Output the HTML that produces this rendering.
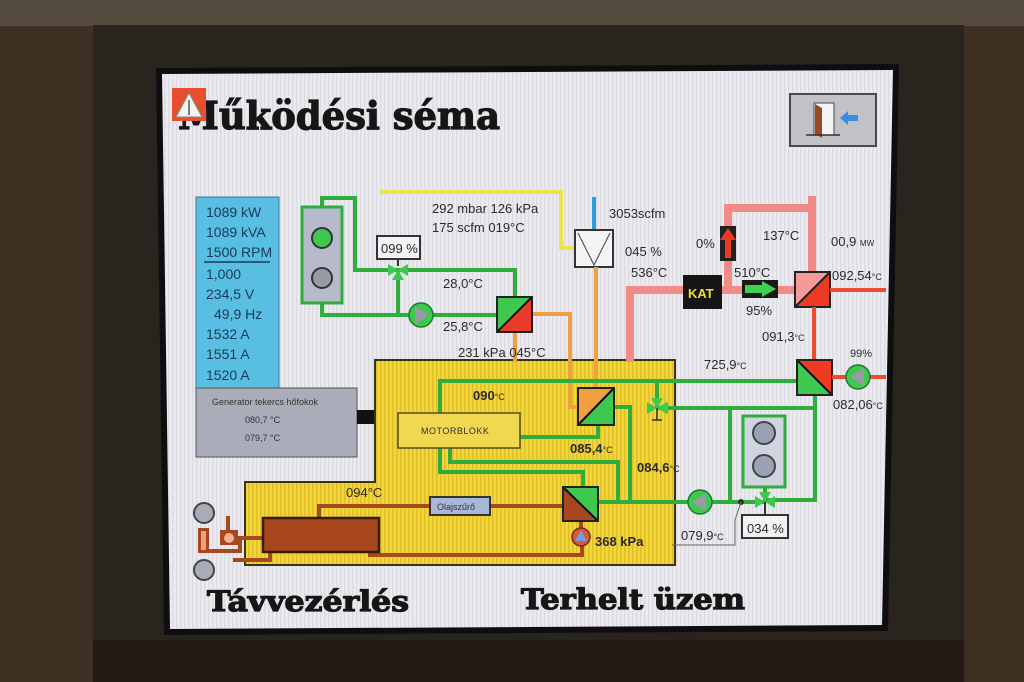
<!DOCTYPE html>
<html><head><meta charset="utf-8"><style>
html,body{margin:0;padding:0;background:#3a2f24;}
svg{display:block;}
text{font-family:"Liberation Sans",sans-serif;fill:#2a2a2a;}
.serif{font-family:"DejaVu Serif","Liberation Serif",serif;font-weight:bold;fill:#161616;stroke:#161616;stroke-width:1.2;}
</style></head><body>
<svg width="1024" height="682" viewBox="0 0 1024 682" xmlns="http://www.w3.org/2000/svg">
<defs>
<pattern id="stripes" width="4" height="4" patternUnits="userSpaceOnUse"><rect width="4" height="4" fill="#f2d63e"/><rect width="1.5" height="4" fill="#e0be26"/></pattern>
<pattern id="scr" width="4" height="4" patternUnits="userSpaceOnUse"><rect width="4" height="4" fill="#ebebef"/><rect width="1.5" height="4" fill="#dcdce2"/></pattern>
</defs>
<!-- wall & bezel -->
<rect x="0" y="0" width="1024" height="682" fill="#3d3022"/>
<rect x="0" y="0" width="1024" height="26" fill="#544a3e"/>
<rect x="93" y="25" width="871" height="657" fill="#2a241f"/>
<rect x="93" y="640" width="871" height="42" fill="#221b15"/>
<!-- screen frame -->
<polygon points="156,68 899,64 888,631 164,635" fill="#0e0e10"/>
<polygon points="162,74 893,70 882,625 170,629" fill="url(#scr)"/>

<!-- title -->
<text class="serif" x="178" y="129" font-size="38" textLength="322" lengthAdjust="spacingAndGlyphs">Működési séma</text>
<rect x="172" y="88" width="34" height="33" fill="#e6502e"/>
<polygon points="189,93 176,117 202,117" fill="#f4f4f4" stroke="#888" stroke-width="1"/>
<line x1="189" y1="100" x2="189" y2="115" stroke="#555" stroke-width="1.5"/>

<!-- exit button -->
<rect x="790" y="94" width="86" height="52" fill="#c2c2c6" stroke="#4a4a4a" stroke-width="2"/>
<rect x="814" y="103" width="20" height="32" fill="#f4f4f4" stroke="#444" stroke-width="1"/>
<polygon points="815,104 822,108 822,138 815,134" fill="#9a4a20"/>
<line x1="806" y1="135" x2="840" y2="135" stroke="#333" stroke-width="1.5"/>
<polygon points="840,118 848,111 848,115 858,115 858,121 848,121 848,125" fill="#3a8ee0"/>

<!-- blue panel -->
<rect x="196" y="197" width="83" height="191" fill="#58bfe2" stroke="#3a7a9a" stroke-width="1"/>
<g font-size="14">
<text x="206" y="217" style="fill:#183a5a">1089 kW</text>
<text x="206" y="237" style="fill:#183a5a">1089 kVA</text>
<text x="206" y="257" style="fill:#183a5a">1500 RPM</text>
<text x="206" y="279" style="fill:#183a5a">1,000</text>
<text x="206" y="299" style="fill:#183a5a">234,5 V</text>
<text x="214" y="319" style="fill:#183a5a">49,9 Hz</text>
<text x="206" y="339" style="fill:#183a5a">1532  A</text>
<text x="206" y="359" style="fill:#183a5a">1551  A</text>
<text x="206" y="380" style="fill:#183a5a">1520  A</text>
</g>
<line x1="204" y1="262" x2="270" y2="262" stroke="#183a5a" stroke-width="1.5"/>
<!-- gray panel -->
<rect x="196" y="388" width="161" height="69" fill="#a8adb9" stroke="#555" stroke-width="1"/>
<text x="212" y="405" font-size="9" style="fill:#333">Generator tekercs hőfokok</text>
<text x="245" y="423" font-size="9" style="fill:#333">080,7      °C</text>
<text x="245" y="441" font-size="9" style="fill:#333">079,7      °C</text>
<rect x="357" y="410" width="19" height="14" fill="#111"/>

<!-- yellow engine block -->
<path d="M375,360 H675 V565 H245 V482 H375 Z" fill="url(#stripes)" stroke="#3a3414" stroke-width="2"/>

<!-- top-left green circuit -->
<g fill="none" stroke="#2fae3e" stroke-width="4">
<polyline points="322,207 322,198 355,198 355,270 515,270 515,297"/>
<polyline points="322,303 322,315 497,315"/>
<line x1="398" y1="270" x2="398" y2="315"/>
</g>
<rect x="302" y="207" width="40" height="96" fill="#b6bacb" stroke="#2fae3e" stroke-width="3"/>
<circle cx="322" cy="238" r="10" fill="#3ec850" stroke="#333" stroke-width="2"/>
<circle cx="322" cy="278" r="10" fill="#9a9aa6" stroke="#333" stroke-width="2"/>
<!-- valve 099 -->
<rect x="377" y="236" width="43" height="23" fill="#f2f2f2" stroke="#333" stroke-width="2"/>
<text x="381" y="253" font-size="13">099 %</text>
<line x1="398" y1="259" x2="398" y2="266" stroke="#333" stroke-width="2"/>
<polygon points="388,264 388,276 398,270" fill="#3ec850"/>
<polygon points="408,264 408,276 398,270" fill="#3ec850"/>
<polygon points="392,280 404,280 398,270" fill="#3ec850"/>
<!-- pump -->
<circle cx="421" cy="315" r="12" fill="#3ec850" stroke="#1e7a2a" stroke-width="1.5"/>
<polygon points="415,306 415,324 429,315" fill="#9a9aa6"/>

<!-- yellow / blue / turbo -->
<polyline points="380,192 561,192 561,248 575,248" fill="none" stroke="#f0e34a" stroke-width="4"/>
<line x1="594" y1="197" x2="594" y2="230" stroke="#2e9ed8" stroke-width="4"/>
<rect x="575" y="230" width="38" height="37" fill="#f4f4f4" stroke="#333" stroke-width="2"/>
<polyline points="578,233 594,265 610,233" fill="none" stroke="#444" stroke-width="1"/>

<!-- orange pipes -->
<g fill="none" stroke="#f0a040" stroke-width="4">
<polyline points="532,314 570,314 570,407 578,407"/>
<line x1="596" y1="267" x2="596" y2="388"/>
<line x1="515" y1="332" x2="515" y2="362"/>
</g>

<!-- HX1 -->
<polygon points="497,297 532,297 497,332" fill="#3ec850"/>
<polygon points="532,297 532,332 497,332" fill="#ea3a2a"/>
<line x1="497" y1="332" x2="532" y2="297" stroke="#111" stroke-width="2"/>
<rect x="497" y="297" width="35" height="35" fill="none" stroke="#222" stroke-width="2"/>

<!-- pink exhaust -->
<g fill="none" stroke="#f28a88" stroke-width="8">
<polyline points="630,362 630,290 683,290"/>
<line x1="722" y1="290" x2="795" y2="290"/>
<polyline points="728,290 728,208 812,208"/>
<line x1="812" y1="196" x2="812" y2="272"/>
</g>
<rect x="683" y="275" width="39" height="34" fill="#151515"/>
<text x="688" y="298" font-size="13" font-weight="bold" style="fill:#f0e030">KAT</text>
<rect x="720" y="226" width="16" height="35" fill="#222"/>
<polygon points="728,228 720,240 725,240 725,258 731,258 731,240 736,240" fill="#ee3a22"/>
<rect x="742" y="280" width="36" height="18" fill="#1a1a1a"/>
<polygon points="745,285 762,285 762,281 776,289 762,297 762,293 745,293" fill="#40d050"/>
<!-- HX3 -->
<polygon points="795,272 830,272 795,307" fill="#f49a98"/>
<polygon points="830,272 830,307 795,307" fill="#ee3a22"/>
<line x1="795" y1="307" x2="830" y2="272" stroke="#222" stroke-width="2"/>
<rect x="795" y="272" width="35" height="35" fill="none" stroke="#222" stroke-width="2"/>
<line x1="830" y1="290" x2="886" y2="290" stroke="#ee4a32" stroke-width="4"/>
<line x1="814" y1="307" x2="814" y2="360" stroke="#ee4a32" stroke-width="4"/>

<!-- green pipes engine -->
<g fill="none" stroke="#2fae3e" stroke-width="4">
<polyline points="440,413 440,381 797,381"/>
<polyline points="520,437 598,437 598,425"/>
<polyline points="614,407 630,407 630,502"/>
<polyline points="440,447 440,472 583,472 583,487"/>
<polyline points="450,447 450,462 618,462 618,502"/>
<line x1="598" y1="502" x2="765" y2="502"/>
<line x1="657" y1="381" x2="657" y2="408"/>
<line x1="657" y1="408" x2="815" y2="408"/>
<line x1="730" y1="408" x2="730" y2="502"/>
<polyline points="815,395 815,500 765,500"/>
<line x1="765" y1="487" x2="765" y2="502"/>
</g>
<!-- HX2 -->
<polygon points="578,388 614,388 578,425" fill="#f0a040"/>
<polygon points="614,388 614,425 578,425" fill="#3ec850"/>
<line x1="578" y1="425" x2="614" y2="388" stroke="#111" stroke-width="2"/>
<rect x="578" y="388" width="36" height="37" fill="none" stroke="#222" stroke-width="2"/>
<!-- valve in block -->
<polygon points="647,402 647,414 657,408" fill="#3ec850"/>
<polygon points="667,402 667,414 657,408" fill="#3ec850"/>
<polygon points="651,398 663,398 657,408" fill="#3ec850"/>
<line x1="657" y1="408" x2="657" y2="420" stroke="#333" stroke-width="1.5"/>
<line x1="652" y1="420" x2="662" y2="420" stroke="#333" stroke-width="1.5"/>

<!-- motorblokk -->
<rect x="398" y="413" width="122" height="35" fill="#f0d850" stroke="#5a4a20" stroke-width="1.5"/>
<text x="421" y="434" font-size="9" letter-spacing="0.5" style="fill:#333">MOTORBLOKK</text>

<!-- HX4 -->
<polygon points="797,360 832,360 832,395" fill="#ee3a22"/>
<polygon points="797,360 797,395 832,395" fill="#3ec850"/>
<line x1="797" y1="360" x2="832" y2="395" stroke="#111" stroke-width="2"/>
<rect x="797" y="360" width="35" height="35" fill="none" stroke="#222" stroke-width="2"/>
<line x1="832" y1="377" x2="886" y2="377" stroke="#ee4a32" stroke-width="4"/>
<circle cx="858" cy="377" r="12" fill="#3ec850" stroke="#1e7a2a" stroke-width="1.5"/>
<polygon points="850,377 864,368 864,386" fill="#9a9aa6"/>

<!-- tank right -->
<rect x="743" y="416" width="42" height="71" fill="#d0d4de" stroke="#2fae3e" stroke-width="3"/>
<circle cx="764" cy="433" r="11" fill="#9aa2b6" stroke="#444" stroke-width="2"/>
<circle cx="764" cy="466" r="11" fill="#9aa2b6" stroke="#444" stroke-width="2"/>
<polygon points="755,496 755,508 765,502" fill="#3ec850"/>
<polygon points="775,496 775,508 765,502" fill="#3ec850"/>
<polygon points="759,492 771,492 765,502" fill="#3ec850"/>
<line x1="765" y1="502" x2="765" y2="515" stroke="#333" stroke-width="2"/>
<rect x="742" y="515" width="46" height="23" fill="#f2f2f2" stroke="#333" stroke-width="2"/>
<text x="747" y="533" font-size="13">034 %</text>
<circle cx="741" cy="502" r="3" fill="#333"/>
<polyline points="741,502 735,520 735,545 672,545" fill="none" stroke="#666" stroke-width="1"/>
<!-- pump left -->
<circle cx="700" cy="502" r="12" fill="#3ec850" stroke="#1e7a2a" stroke-width="1.5"/>
<polygon points="692,502 706,493 706,511" fill="#9a9aa6"/>
<polygon points="668,402 660,408 668,414" fill="#3ec850"/>

<!-- oil circuit -->
<g fill="none" stroke="#a44a1c" stroke-width="4">
<polyline points="319,518 319,506 430,506"/>
<line x1="490" y1="506" x2="563" y2="506"/>
<polyline points="370,552 370,555 582,555 582,546"/>
<line x1="581" y1="521" x2="581" y2="528"/>
<polyline points="263,538 238,538"/>
<polyline points="208,551 240,551 240,540"/>
<polyline points="233,560 270,560 270,552"/>
<line x1="228" y1="516" x2="228" y2="530"/>
</g>
<rect x="263" y="518" width="116" height="34" fill="#a8461e" stroke="#3a1a0a" stroke-width="2.5"/>
<rect x="430" y="497" width="60" height="18" fill="#a8b8d8" stroke="#333" stroke-width="2"/>
<text x="437" y="510" font-size="9" style="fill:#333">Olajszűrő</text>
<!-- HX5 -->
<polygon points="563,487 598,487 598,521" fill="#3ec850"/>
<polygon points="563,487 563,521 598,521" fill="#a8461e"/>
<line x1="563" y1="487" x2="598" y2="521" stroke="#111" stroke-width="2"/>
<rect x="563" y="487" width="35" height="34" fill="none" stroke="#222" stroke-width="2"/>
<circle cx="581" cy="537" r="9" fill="#d05a3a" stroke="#7a2a10" stroke-width="1.5"/>
<polygon points="581,530 575,541 587,541" fill="#7a9ae0"/>
<!-- left small items -->
<rect x="220" y="530" width="18" height="15" fill="#a8461e"/>
<circle cx="229" cy="538" r="5" fill="#f4b090"/>
<rect x="198" y="528" width="11" height="25" fill="#a8461e"/>
<rect x="201" y="531" width="5" height="19" fill="#f0a080"/>
<circle cx="204" cy="513" r="10" fill="#a8acb8" stroke="#444" stroke-width="2"/>
<circle cx="204" cy="570" r="10" fill="#a8acb8" stroke="#444" stroke-width="2"/>

<!-- labels -->
<g font-size="13">
<text x="432" y="213">292 mbar 126 kPa</text>
<text x="432" y="232">175 scfm  019°C</text>
<text x="609" y="218">3053scfm</text>
<text x="625" y="256">045 %</text>
<text x="631" y="277">536°C</text>
<text x="443" y="288">28,0°C</text>
<text x="443" y="331">25,8°C</text>
<text x="458" y="357">231 kPa  045°C</text>
<text x="696" y="248">0%</text>
<text x="763" y="240">137°C</text>
<text x="831" y="246">00,9 <tspan font-size="8">MW</tspan></text>
<text x="734" y="277">510°C</text>
<text x="746" y="315">95%</text>
<text x="832" y="280">092,54<tspan font-size="9">°C</tspan></text>
<text x="762" y="341">091,3<tspan font-size="9">°C</tspan></text>
<text x="704" y="369">725,9<tspan font-size="9">°C</tspan></text>
<text x="850" y="357" font-size="11">99%</text>
<text x="833" y="409">082,06<tspan font-size="9">°C</tspan></text>
<text x="473" y="400" font-weight="bold">090<tspan font-size="9" font-weight="normal">°C</tspan></text>
<text x="570" y="453" font-weight="bold">085,4<tspan font-size="9" font-weight="normal">°C</tspan></text>
<text x="637" y="472" font-weight="bold">084,6<tspan font-size="9" font-weight="normal">°C</tspan></text>
<text x="346" y="497">094°C</text>
<text x="595" y="546" font-weight="bold">368 kPa</text>
<text x="681" y="540">079,9<tspan font-size="9">°C</tspan></text>
</g>

<!-- bottom titles -->
<text class="serif" x="207" y="611" font-size="28" textLength="202" lengthAdjust="spacingAndGlyphs">Távvezérlés</text>
<text class="serif" x="521" y="609" font-size="28" textLength="224" lengthAdjust="spacingAndGlyphs">Terhelt üzem</text>
</svg>
</body></html>
